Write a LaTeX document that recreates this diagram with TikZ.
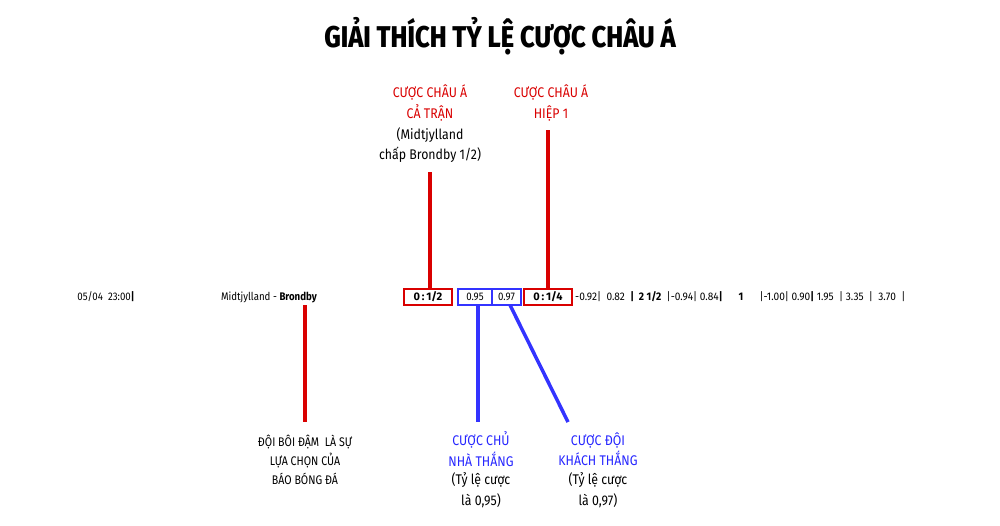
\documentclass[tikz,border=0pt]{standalone}
\usepackage{fontspec}
\setmainfont{Fira Sans}
\newfontfamily\heavy{Fira Sans}[UprightFont=* ExtraBold]
\begin{document}
\begin{tikzpicture}[x=1pt,y=-1pt,
 lab/.style={align=center,font=\fontsize{14}{20.5}\selectfont\addfontfeature{FakeStretch=0.88}},
 row/.style={font=\fontsize{11}{12}\selectfont\addfontfeature{FakeStretch=0.88},inner sep=0pt},
 rl/.style={draw=red!85!black,line width=3.5pt},
 bl/.style={draw=blue!80,line width=3.5pt}]
\useasboundingbox (0,0) rectangle (1000,525);
\node[font=\fontsize{30}{32}\selectfont\heavy\addfontfeature{FakeStretch=0.85}] (title) at (500,36) {GIẢI THÍCH TỶ LỆ CƯỢC CHÂU Á};
\node[row] (date) at (106,297) {05/04\ \ 23:00\textbf{|}};
\node[row] (teams) at (269,297) {Midtjylland - \textbf{Brondby}};
\node[row,draw=red!85!black,line width=2.8pt,minimum width=48pt,minimum height=16pt,font=\fontsize{11}{12}\selectfont\bfseries] (b1) at (428,297) {0\,:\,1/2};
\node[row,draw=blue!80,line width=2.8pt,minimum width=34pt,minimum height=16pt] (b2) at (475,297) {0.95};
\node[row,draw=blue!80,line width=2.8pt,minimum width=29pt,minimum height=16pt] (b3) at (506.5,297) {0.97};
\node[row,draw=red!85!black,line width=2.8pt,minimum width=48pt,minimum height=16pt,font=\fontsize{11}{12}\selectfont\bfseries] (b4) at (548,297) {0\,:\,1/4};
\node[row,anchor=west,font=\fontsize{11}{12}\selectfont\addfontfeature{FakeStretch=0.92}] (rest) at (575,297) {-0.92|\ \ 0.82\ \ \textbf{|\ \ 2 1/2}\ \ |-0.94|\ 0.84\textbf{|}\ \ \ \ \ \ \textbf{1}\ \ \ \ \ \ |-1.00|\ 0.90\textbf{|}\ 1.95\ \ |\ 3.35\ \ |\ \ 3.70\ \ |};
\node[lab,text=red!85!black] (t1) at (430,103) {CƯỢC CHÂU Á\\CẢ TRẬN};
\node[lab] (t1b) at (430,145) {(Midtjylland\\chấp Brondby 1/2)};
\node[lab,text=red!85!black] (t2) at (551,103) {CƯỢC CHÂU Á\\HIỆP 1};
\node[lab,font=\fontsize{12.5}{19}\selectfont\addfontfeature{FakeStretch=0.85}] (t3) at (305,460) {ĐỘI BÔI ĐẬM\ \ LÀ SỰ\\LỰA CHỌN CỦA\\BÁO BÓNG ĐÁ};
\node[lab,text=blue!85] (t4) at (481,449) {CƯỢC CHỦ\\NHÀ THẮNG};
\node[lab] (t4b) at (481,490) {(Tỷ lệ cược\\là 0,95)};
\node[lab,text=blue!85] (t5) at (598,449) {CƯỢC ĐỘI\\KHÁCH THẮNG};
\node[lab] (t5b) at (598,490) {(Tỷ lệ cược\\là 0,97)};
\coordinate (c1) at (430,172);
\coordinate (c2) at (548,130);
\coordinate (c3) at (305,422);
\coordinate (c4) at (478,422);
\coordinate (c5) at (568,422);
\draw[rl] (b1.north) ++(2,0) -- (c1);
\draw[rl] (b4.north) -- (c2);
\draw[rl] (305,305) -- (c3);
\draw[bl] (478,305) -- (c4);
\draw[bl] (510,305) -- (c5);
\end{tikzpicture}
\end{document}
